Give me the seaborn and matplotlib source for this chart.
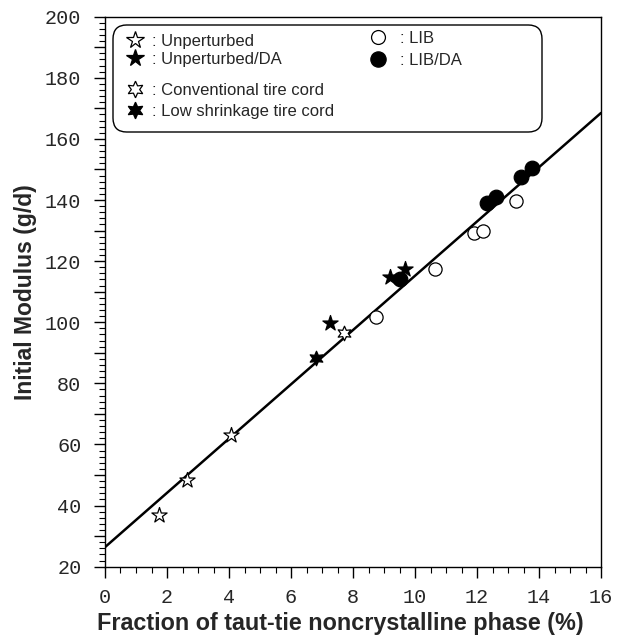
import matplotlib
matplotlib.use("Agg")
import matplotlib.pyplot as plt
import seaborn as sns
import pandas as pd
from matplotlib.ticker import MultipleLocator, FuncFormatter
from matplotlib.lines import Line2D
from matplotlib.patches import FancyBboxPatch

# ---- data ----
unperturbed_x = [1.75, 2.65, 4.05]
unperturbed_y = [36.9, 48.4, 63.1]
unperturbed_da_x = [7.26, 9.19, 9.68]
unperturbed_da_y = [99.8, 114.9, 117.4]
conventional_x = [7.72]
conventional_y = [96.4]
low_shrink_x = [6.81]
low_shrink_y = [88.2]
lib_x = [8.74, 10.65, 11.90, 12.18, 13.26]
lib_y = [101.8, 117.4, 129.1, 130.0, 139.8]
lib_da_x = [9.52, 12.31, 12.61, 13.41, 13.77]
lib_da_y = [114.0, 138.9, 141.1, 147.6, 150.4]
fit_x = [0, 16]
fit_y = [26.4, 168.5]

x_ticks = [0, 2, 4, 6, 8, 10, 12, 14, 16]
y_ticks = [20, 40, 60, 80, 100, 120, 140, 160, 180, 200]

W, H = 619, 637
sns.set_style("ticks")
plt.rcParams['font.family'] = ['Liberation Sans', 'DejaVu Sans']

fig = plt.figure(figsize=(W/100, H/100), dpi=100)
ax = fig.add_axes([105/W, 1-566.7/H, (601-105)/W, (566.7-16.7)/H])

sns.lineplot(x=fit_x, y=fit_y, ax=ax, color='black', lw=1.8, zorder=1)

six_star = (6, 1, 0)
groups = [
    (unperturbed_x, unperturbed_y, '*', 'white', 11.5, 13, ': Unperturbed'),
    (unperturbed_da_x, unperturbed_da_y, '*', 'black', 11.5, 13, ': Unperturbed/DA'),
    (conventional_x, conventional_y, six_star, 'white', 10.5, 12, ': Conventional tire cord'),
    (low_shrink_x, low_shrink_y, six_star, 'black', 10.5, 12, ': Low shrinkage tire cord'),
    (lib_x, lib_y, 'o', 'white', 9.5, 10, ': LIB'),
    (lib_da_x, lib_da_y, 'o', 'black', 10.5, 11, ': LIB/DA'),
]
handles = []
for xs, ys, mk, fc, ms, lms, lab in groups:
    df = pd.DataFrame({'x': xs, 'y': ys})
    sns.scatterplot(data=df, x='x', y='y', ax=ax, marker=mk, s=ms**2,
                    facecolor=fc, edgecolor='black', linewidth=0.9, zorder=3)
    handles.append(Line2D([], [], ls='none', marker=mk, markersize=lms,
                          markerfacecolor=fc, markeredgecolor='black',
                          markeredgewidth=0.9, label=lab))

# legend frame
frame = FancyBboxPatch((113/W, 1-132/H), (542-113)/W, (132-25)/H,
                       boxstyle='round,pad=0,rounding_size=0.022',
                       transform=fig.transFigure, facecolor='white',
                       edgecolor='black', linewidth=1.0, zorder=5)
fig.patches.append(frame)

fs = 12
def add_leg(hs, left_px, center_px, spacing, tpad):
    lg = fig.legend(handles=hs, loc='center left',
                    bbox_to_anchor=(left_px/W, 1-center_px/H),
                    bbox_transform=fig.transFigure, frameon=False,
                    fontsize=fs, handlelength=1.2, handletextpad=tpad,
                    labelspacing=spacing, borderpad=0, borderaxespad=0)
    lg.set_zorder(6)
    return lg

add_leg(handles[0:2], 125, 50.5, 0.2, 0.45)
add_leg(handles[2:4], 125, 101, 0.35, 0.45)
add_leg(handles[4:6], 368, 49.5, 0.45, 0.7)

ax.set_xlim(0, 16)
ax.set_ylim(20, 200)
ax.set_xticks(x_ticks)
ax.xaxis.set_minor_locator(MultipleLocator(0.5))
ax.yaxis.set_major_locator(MultipleLocator(10))
ax.yaxis.set_minor_locator(MultipleLocator(2))
ax.yaxis.set_major_formatter(FuncFormatter(lambda v, p: f"{int(round(v))}" if int(round(v)) % 20 == 0 else ""))
ax.tick_params(axis='both', which='major', direction='out', length=8, width=1, color='black')
ax.tick_params(axis='both', which='minor', direction='out', length=4.3, width=0.8, color='black')
ax.tick_params(axis='x', which='major', pad=7.5)
ax.tick_params(axis='y', which='major', pad=9)
ax.tick_params(axis='both', labelsize=14.5)
for lbl in ax.get_xticklabels() + ax.get_yticklabels():
    lbl.set_fontfamily('Liberation Mono')
for sp in ax.spines.values():
    sp.set_visible(True)
    sp.set_color('black')
    sp.set_linewidth(1.0)

ax.set_xlabel('Fraction of taut-tie noncrystalline phase (%)', fontsize=16.8, fontweight='bold')
ax.xaxis.set_label_coords(0.474, -0.103)
ax.xaxis.label.set_va('center')
ax.set_ylabel('Initial Modulus (g/d)', fontsize=16.5, fontweight='bold', labelpad=6)

fig.savefig('out.png', dpi=100, facecolor='white')
